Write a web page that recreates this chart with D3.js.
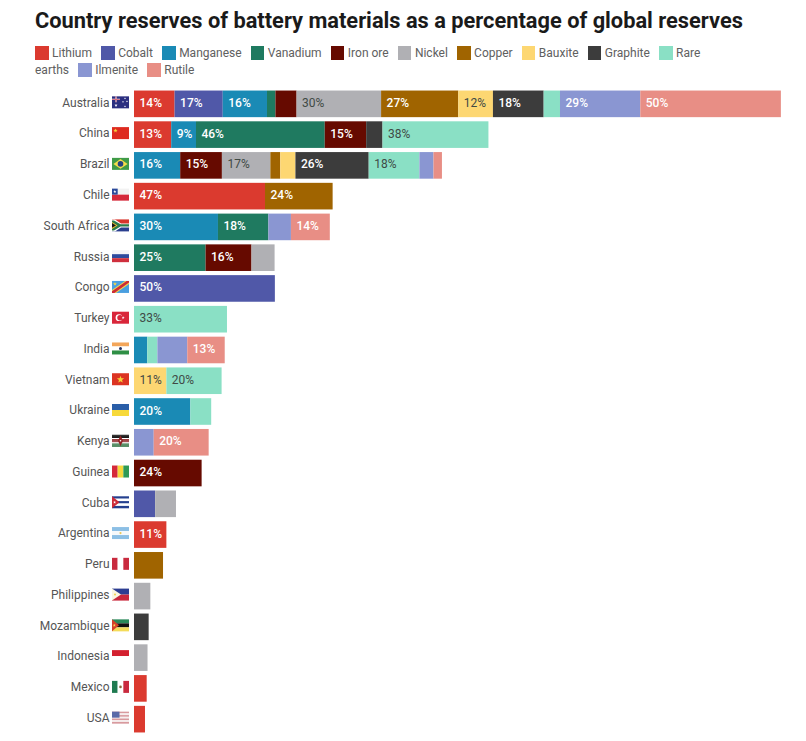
<!DOCTYPE html>
<html>
<head>
<meta charset="utf-8">
<script src="https://cdn.jsdelivr.net/npm/d3@7"></script>
<style>
  body { margin: 0; background: #fff; font-family: Roboto, sans-serif; }
  #chart { position: relative; width: 806px; height: 741px; overflow: hidden; }
  h1 { position: absolute; left: 35px; top: 8px; margin: 0; font-size: 21.8px; line-height: 26px; font-weight: 700; color: #1a1a1a; white-space: nowrap; }
  #legend { position: absolute; left: 35px; top: 45px; width: 685px; font-size: 12px; line-height: 17px; color: #606060; }
  #legend .item { margin-right: 9.2px; }
  #legend .swatch { display: inline-block; width: 13.5px; height: 13.5px; margin-right: 3.5px; vertical-align: -2.5px; }
  svg { position: absolute; left: 0; top: 0; }
</style>
</head>
<body>
<div id="chart">
  <h1>Country reserves of battery materials as a percentage of global reserves</h1>
  <div id="legend"></div>
</div>
<script>
var countries = ['Australia', 'China', 'Brazil', 'Chile', 'South Africa', 'Russia', 'Congo', 'Turkey', 'India', 'Vietnam', 'Ukraine', 'Kenya', 'Guinea', 'Cuba', 'Argentina', 'Peru', 'Philippines', 'Mozambique', 'Indonesia', 'Mexico', 'USA'];
var materials = ['Lithium', 'Cobalt', 'Manganese', 'Vanadium', 'Iron ore', 'Nickel', 'Copper', 'Bauxite', 'Graphite', 'Rare earths', 'Ilmenite', 'Rutile'];
var colors = ['#db3a2f', '#5058a8', '#1a8ab5', '#1f7a60', '#660a00', '#b0b0b4', '#a06400', '#fdd772', '#3c3c3c', '#8ae0c5', '#8a96d2', '#e88e85'];

// values per material, same order as countries
var lithium   = [14.4, 13.2, 0, 46.5, 0, 0, 0, 0, 0, 0, 0, 0, 0, 0, 11.49, 0, 0, 0, 0, 4.5, 3.9];
var cobalt    = [17.1, 0, 0, 0, 0, 0, 50, 0, 0, 0, 0, 0, 0, 7.5, 0, 0, 0, 0, 0, 0, 0];
var manganese = [15.7, 8.8, 16.4, 0, 29.8, 0, 0, 0, 4.7, 0, 20, 0, 0, 0, 0, 0, 0, 0, 0, 0, 0];
var vanadium  = [3, 45.7, 0, 0, 17.9, 25.4, 0, 0, 0, 0, 0, 0, 0, 0, 0, 0, 0, 0, 0, 0, 0];
var ironOre   = [7.5, 14.7, 14.8, 0, 0, 16.3, 0, 0, 0, 0, 0, 0, 24, 0, 0, 0, 0, 0, 0, 0, 0];
var nickel    = [30, 0, 17.2, 0, 0, 8.2, 0, 0, 0, 0, 0, 0, 0, 7.4, 0, 0, 5.8, 0, 4.8, 0, 0];
var copper    = [27.4, 0, 3.5, 24, 0, 0, 0, 0, 0, 0, 0, 0, 0, 0, 0, 10.3, 0, 0, 0, 0, 0];
var bauxite   = [12.3, 0, 5.4, 0, 0, 0, 0, 0, 0, 11.49, 0, 0, 0, 0, 0, 0, 0, 0, 0, 0, 0];
var graphite  = [18, 5.8, 26, 0, 0, 0, 0, 0, 0, 0, 0, 0, 0, 0, 0, 0, 0, 5.2, 0, 0, 0];
var rareEarth = [5.8, 37.6, 18, 0, 0, 0, 0, 33, 3.6, 19.6, 7.4, 0, 0, 0, 0, 0, 0, 0, 0, 0, 0];
var ilmenite  = [28.5, 0, 5, 0, 8, 0, 0, 0, 10.6, 0, 0, 7, 0, 0, 0, 0, 0, 0, 0, 0, 0];
var rutile    = [49.9, 0, 3, 0, 13.8, 0, 0, 0, 13.3, 0, 0, 19.5, 0, 0, 0, 0, 0, 0, 0, 0, 0];
var seriesValues = [lithium, cobalt, manganese, vanadium, ironOre, nickel, copper, bauxite, graphite, rareEarth, ilmenite, rutile];

var darkLabels = ['Nickel', 'Bauxite', 'Rare earths']; // these get dark, thin text
var noLabel = ['India|Ilmenite', 'Peru|Copper'];       // big enough but not labelled in the chart
var minLabel = 8.5;

var color = d3.scaleOrdinal(materials, colors);

// legend, one span per word so "Rare earths" can wrap cleanly
var items = d3.select('#legend').selectAll('span.item').data(materials)
  .enter().append('span').attr('class', 'item');
items.append('span').attr('class', 'swatch').style('background', function(d){ return color(d); });
items.each(function(d){
  var item = d3.select(this);
  d.split(' ').forEach(function(word, i){
    if (i > 0) item.append(function(){ return document.createTextNode(' '); });
    item.append('span').text(word);
  });
});

var svg = d3.select('#chart').append('svg').attr('width', 806).attr('height', 741);

var x = d3.scaleLinear().domain([0, 230]).range([134, 782]);
var y = d3.scaleBand().domain(countries).range([89, 734]).paddingInner(0.135).paddingOuter(0.05);

var rows = countries.map(function(c, i){
  var row = {country: c};
  materials.forEach(function(m, j){ row[m] = seriesValues[j][i]; });
  return row;
});
var stack = d3.stack().keys(materials)(rows);

var layers = svg.selectAll('g.layer').data(stack)
  .enter().append('g').attr('class', 'layer').attr('fill', function(d){ return color(d.key); });

layers.selectAll('rect')
  .data(function(d){ return d.filter(function(s){ return s[1] > s[0]; }); })
  .enter().append('rect')
  .attr('x', function(d){ return x(d[0]); })
  .attr('y', function(d){ return y(d.data.country); })
  .attr('width', function(d){ return x(d[1]) - x(d[0]); })
  .attr('height', y.bandwidth());

// value labels
stack.forEach(function(layer){
  var isDark = darkLabels.indexOf(layer.key) >= 0;
  var shown = layer.filter(function(s){
    return s[1] - s[0] >= minLabel && noLabel.indexOf(s.data.country + '|' + layer.key) < 0;
  });
  svg.append('g').selectAll('text').data(shown)
    .enter().append('text')
    .attr('x', function(d){ return x(d[0]) + 5.5; })
    .attr('y', function(d){ return y(d.data.country) + y.bandwidth() / 2 + 3; })
    .attr('font-size', 12)
    .attr('font-weight', isDark ? 400 : 500)
    .attr('fill', isDark ? '#3f4a45' : '#fff')
    .text(function(d){ return Math.round(d[1] - d[0]) + '%'; });
});

// country names
var yAxis = svg.append('g').attr('transform', 'translate(134,-1)')
  .call(d3.axisLeft(y).tickSize(0).tickPadding(24.5));
yAxis.select('.domain').remove();
yAxis.selectAll('text').attr('font-family', 'Roboto, sans-serif').attr('font-size', 12).attr('fill', '#555');

// flags, drawn in a 17 x 12 box
function stripes(g, dir, list){
  list.forEach(function(c, i){
    var n = list.length;
    g.append('rect')
      .attr('x', dir == 'v' ? i * 17 / n : 0).attr('y', dir == 'h' ? i * 12 / n : 0)
      .attr('width', dir == 'v' ? 17 / n : 17).attr('height', dir == 'h' ? 12 / n : 12)
      .attr('fill', c);
  });
}
function poly(g, pts, c){ g.append('polygon').attr('points', pts).attr('fill', c); }
function dot(g, cx, cy, r, c){ g.append('circle').attr('cx', cx).attr('cy', cy).attr('r', r).attr('fill', c); }
function star(g, cx, cy, r, c){
  var pts = d3.range(10).map(function(i){
    var a = i * Math.PI / 5 - Math.PI / 2, q = i % 2 ? r * 0.42 : r;
    return [cx + q * Math.cos(a), cy + q * Math.sin(a)].join(',');
  }).join(' ');
  poly(g, pts, c);
}

var flags = {
  'Australia': function(g){
    stripes(g, 'h', ['#2b2f80']);
    poly(g, '0,2.4 8,2.4 8,3.6 0,3.6', '#fff'); poly(g, '3.4,0 4.6,0 4.6,6 3.4,6', '#fff');
    poly(g, '0,2.7 8,2.7 8,3.3 0,3.3', '#c8304a'); poly(g, '3.7,0 4.3,0 4.3,6 3.7,6', '#c8304a');
    star(g, 4, 9, 1.7, '#fff'); star(g, 13, 2, 1.1, '#fff'); star(g, 15, 5, 1.1, '#fff'); star(g, 11, 5.5, 1.1, '#fff'); star(g, 13, 10, 1.1, '#fff');
  },
  'China': function(g){ stripes(g, 'h', ['#de2a1f']); star(g, 3.5, 3.5, 2.2, '#f7d23a'); },
  'Brazil': function(g){ stripes(g, 'h', ['#3f9b48']); poly(g, '8.5,1.2 15.6,6 8.5,10.8 1.4,6', '#f5dc4a'); dot(g, 8.5, 6, 2.8, '#27447f'); },
  'Chile': function(g){ stripes(g, 'h', ['#f2f2f2', '#d5293a']); g.append('rect').attr('width', 5.7).attr('height', 6).attr('fill', '#2b4a9b'); star(g, 2.85, 3, 1.6, '#fff'); },
  'South Africa': function(g){
    stripes(g, 'h', ['#d8352c', '#2a3f8f']);
    poly(g, '0,0 3,0 9,4 17,4 17,8 9,8 3,12 0,12', '#fff');
    poly(g, '0,1 2,1 8.5,4.8 17,4.8 17,7.2 8.5,7.2 2,11 0,11', '#2c7d4b');
    poly(g, '0,2.5 5.5,6 0,9.5', '#f5c42e'); poly(g, '0,3.6 4,6 0,8.4', '#1a1a1a');
  },
  'Russia': function(g){ stripes(g, 'h', ['#f4f4f8', '#2d4a9e', '#cf2f3d']); },
  'Congo': function(g){ stripes(g, 'h', ['#4a9fe0']); poly(g, '0,12 0,9 13,0 17,0 17,3 4,12', '#f3d54a'); poly(g, '0,12 0,10.4 14.6,0 17,0 17,1.6 2.4,12', '#cc2b38'); star(g, 3, 3, 2, '#f3d54a'); },
  'Turkey': function(g){ stripes(g, 'h', ['#d9263a']); dot(g, 7, 6, 3.4, '#fff'); dot(g, 8, 6, 2.7, '#d9263a'); star(g, 11.2, 6, 1.5, '#fff'); },
  'India': function(g){ stripes(g, 'h', ['#f3a65a', '#fff', '#2f8f45']); dot(g, 8.5, 6, 1.5, '#22305f'); },
  'Vietnam': function(g){ stripes(g, 'h', ['#dc3422']); star(g, 8.5, 6.3, 3.8, '#f7d23a'); },
  'Ukraine': function(g){ stripes(g, 'h', ['#2a5ea8', '#f7d93a']); },
  'Kenya': function(g){
    stripes(g, 'h', ['#1a1a1a', '#1a1a1a', '#1a1a1a', '#fff', '#8f2224', '#8f2224', '#8f2224', '#fff', '#2a6f3c', '#2a6f3c', '#2a6f3c']);
    poly(g, '8.5,0.5 11,6 8.5,11.5 6,6', '#8f2224'); dot(g, 8.5, 6, 0.8, '#fff');
  },
  'Guinea': function(g){ stripes(g, 'v', ['#d5293a', '#f5d83c', '#2f9a55']); },
  'Cuba': function(g){ stripes(g, 'h', ['#25408f', '#fff', '#25408f', '#fff', '#25408f']); poly(g, '0,0 7.5,6 0,12', '#cc2b38'); star(g, 2.6, 6, 1.5, '#fff'); },
  'Argentina': function(g){ stripes(g, 'h', ['#8cbfe5', '#f5f8fb', '#8cbfe5']); dot(g, 8.5, 6, 1.1, '#e8c65a'); },
  'Peru': function(g){ stripes(g, 'v', ['#c92a3e', '#fff', '#c92a3e']); },
  'Philippines': function(g){ stripes(g, 'h', ['#2c3d92', '#c9283c']); poly(g, '0,0 9,6 0,12', '#fbf6e0'); dot(g, 3, 6, 1, '#f0cf4a'); },
  'Mozambique': function(g){
    stripes(g, 'h', ['#2a8a5a', '#111', '#f4dc5a']);
    poly(g, '0,0 7,6 0,12', '#d4402a'); star(g, 2.3, 6, 1.6, '#f4dc5a');
  },
  'Indonesia': function(g){ stripes(g, 'h', ['#d3202f', '#fff']); },
  'Mexico': function(g){ stripes(g, 'v', ['#1f7a50', '#fff', '#c92a3e']); dot(g, 8.5, 6, 1.3, '#8a6a3a'); },
  'USA': function(g){
    stripes(g, 'h', ['#d89a9e', '#f6eeee', '#d89a9e', '#f6eeee', '#d89a9e', '#f6eeee', '#d89a9e']);
    g.append('rect').attr('width', 7.5).attr('height', 6).attr('fill', '#5a6aa8');
  }
};

svg.append('g').selectAll('g').data(countries)
  .enter().append('g')
  .attr('transform', function(d){ return 'translate(112,' + (y(d) + y.bandwidth() / 2 - 7.5) + ')'; })
  .each(function(d){ flags[d](d3.select(this)); });
</script>
</body>
</html>
